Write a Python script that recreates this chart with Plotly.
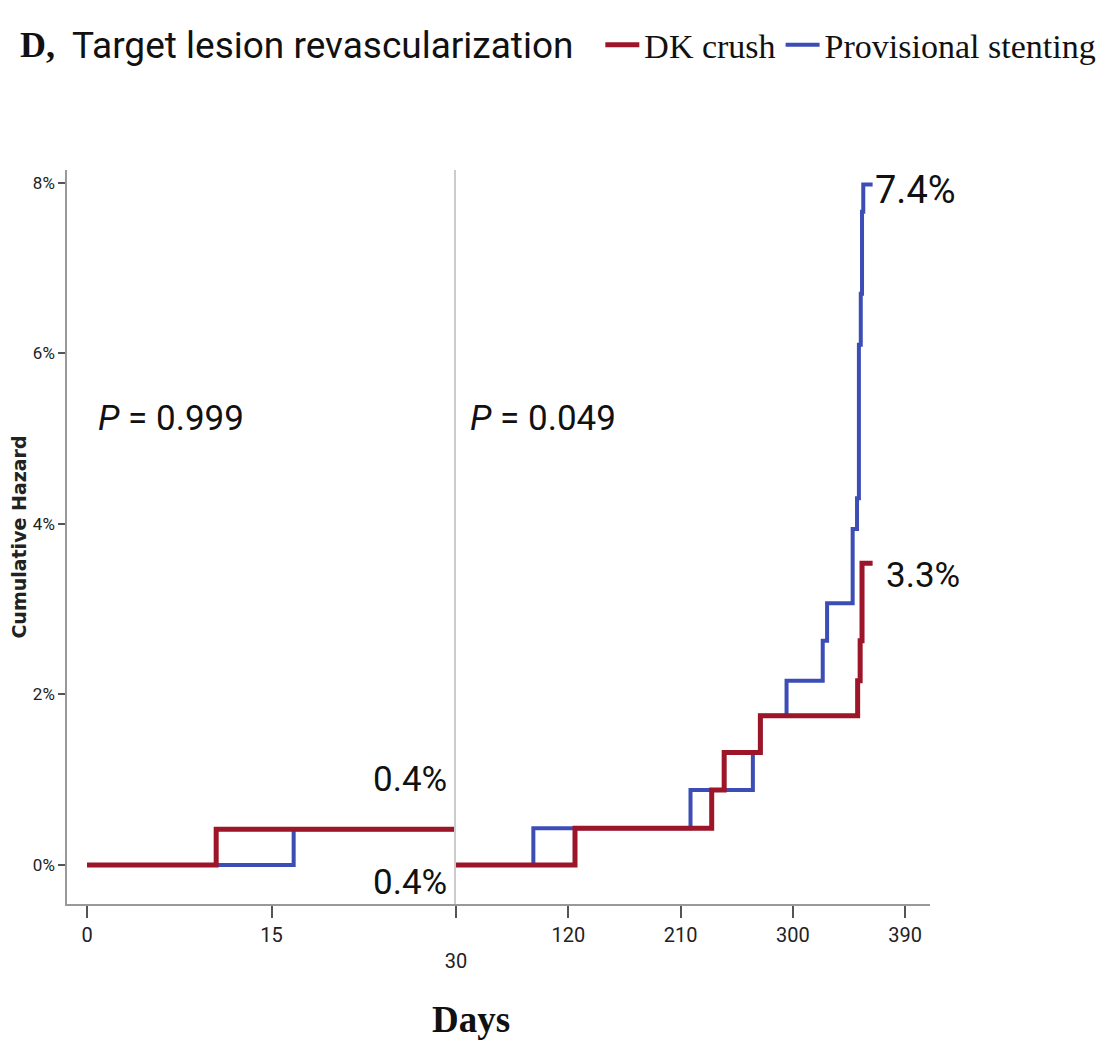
import plotly.graph_objects as go

# ---- data (cumulative hazard, %) ----
dk_early_days = [0, 10.5, 30]
dk_early_haz = [0, 0.42, 0.42]
ps_early_days = [0, 16.8, 30]
ps_early_haz = [0, 0.42, 0.42]

dk_late_days = [30, 125.4, 235, 245, 274, 352, 354, 355.5, 364]
dk_late_haz = [0, 0.43, 0.88, 1.32, 1.75, 2.16, 2.63, 3.54, 3.54]
ps_late_days = [30, 92, 218, 268, 274, 295, 324, 327.5, 348, 351.5, 353, 354.5, 355.5, 356.5, 364]
ps_late_haz = [0, 0.43, 0.88, 1.32, 1.75, 2.16, 2.63, 3.07, 3.94, 4.3, 6.1, 6.7, 7.66, 7.98, 7.98]

left_ticks = [0, 15]
right_ticks = [30, 120, 210, 300, 390]
right_ticktext = ["<br>30", "120", "210", "300", "390"]
y_ticks = [0, 2, 4, 6, 8]
y_ticktext = ["0%", "2%", "4%", "6%", "8%"]

RED = "#9C1529"
BLUE = "#3D4DB6"
SANS = "Roboto, Open Sans, sans-serif"
SERIF = "Liberation Serif, Times New Roman, serif"

fig = go.Figure()
fig.add_trace(go.Scatter(x=ps_early_days, y=ps_early_haz, mode="lines", line=dict(color=BLUE, width=4, shape="hv"),
                         showlegend=False, xaxis="x", yaxis="y"))
fig.add_trace(go.Scatter(x=dk_early_days, y=dk_early_haz, mode="lines", line=dict(color=RED, width=5, shape="hv"),
                         showlegend=False, xaxis="x", yaxis="y"))
fig.add_trace(go.Scatter(x=ps_late_days, y=ps_late_haz, mode="lines", line=dict(color=BLUE, width=4, shape="hv"),
                         name="Provisional stenting", legendrank=2, xaxis="x2", yaxis="y2"))
fig.add_trace(go.Scatter(x=dk_late_days, y=dk_late_haz, mode="lines", line=dict(color=RED, width=5, shape="hv"),
                         name="DK crush", legendrank=1, xaxis="x2", yaxis="y2"))

split = (456 - 67) / 863
yr = [-0.457, 8.15]
tickfont = dict(family=SANS, size=20, color="#222")
ytickfont = dict(family=SANS, size=17, color="#222")

fig.update_layout(
    width=1106, height=1041,
    margin=dict(l=59, r=184, t=162, b=145, autoexpand=False),
    plot_bgcolor="white", paper_bgcolor="white",
    xaxis=dict(domain=[0, split], range=[-1.63, 30], tickvals=left_ticks, ticks="outside", ticklen=12,
               tickcolor="#555", tickwidth=1.5, showline=True, linecolor="#999", linewidth=2, showgrid=False,
               zeroline=False, tickfont=tickfont, anchor="y"),
    xaxis2=dict(domain=[split, 1], range=[30, 410], tickvals=right_ticks, ticktext=right_ticktext,
                ticks="outside", ticklen=12, tickcolor="#555", tickwidth=1.5, showline=True, linecolor="#999",
                linewidth=2, showgrid=False, zeroline=False, tickfont=tickfont, anchor="y2"),
    yaxis=dict(range=yr, tickvals=y_ticks, ticktext=y_ticktext, ticks="outside", ticklen=7, tickcolor="#555",
               tickwidth=1.5, showline=True, linecolor="#999", linewidth=1.5, showgrid=False, zeroline=False,
               tickfont=ytickfont, anchor="x",
               title=dict(text="<b>Cumulative Hazard</b>", font=dict(family="DejaVu Sans", size=19, color="#222"),
                          standoff=8)),
    yaxis2=dict(range=yr, matches="y", showticklabels=False, ticks="", showline=True, linecolor="#ccc",
                linewidth=1.5, showgrid=False, zeroline=False, anchor="x2"),
    legend=dict(orientation="h", x=0.618, y=1.17, xanchor="left", yanchor="middle",
                font=dict(family=SERIF, size=34, color="#111"), itemwidth=34, bgcolor="rgba(0,0,0,0)",
                traceorder="normal"),
    showlegend=True,
)

ann = []
ann.append(dict(xref="paper", yref="paper", x=-0.057, y=1.17, xanchor="left", yanchor="middle",
                text="<b>D,</b>", showarrow=False, font=dict(family=SERIF, size=36, color="#111")))
ann.append(dict(xref="paper", yref="paper", x=0.004, y=1.17, xanchor="left", yanchor="middle",
                text="Target lesion revascularization", showarrow=False,
                font=dict(family=SANS, size=37, color="#111")))
ann.append(dict(xref="paper", yref="paper", x=0.468, y=-0.158, xanchor="center", yanchor="middle",
                text="<b>Days</b>", showarrow=False, font=dict(family=SERIF, size=37, color="#111")))
pfont = dict(family=SANS, size=35, color="#111")
ann.append(dict(xref="x", yref="y", x=0.7, y=5.24, xanchor="left", yanchor="middle",
                text="<i>P</i> = 0.999", showarrow=False, font=pfont))
ann.append(dict(xref="x2", yref="y2", x=40, y=5.24, xanchor="left", yanchor="middle",
                text="<i>P</i> = 0.049", showarrow=False, font=pfont))
ann.append(dict(xref="x", yref="y", x=29.4, y=1.0, xanchor="right", yanchor="middle",
                text="0.4%", showarrow=False, font=pfont))
ann.append(dict(xref="x", yref="y", x=29.4, y=-0.2, xanchor="right", yanchor="middle",
                text="0.4%", showarrow=False, font=pfont))
ann.append(dict(xref="x2", yref="y2", x=364, y=7.92, xanchor="left", yanchor="middle",
                text="7.4%", showarrow=False, font=dict(family=SANS, size=38, color="#111")))
ann.append(dict(xref="x2", yref="y2", x=373, y=3.4, xanchor="left", yanchor="middle",
                text="3.3%", showarrow=False, font=pfont))
fig.update_layout(annotations=ann)

fig.write_html("out.html")
